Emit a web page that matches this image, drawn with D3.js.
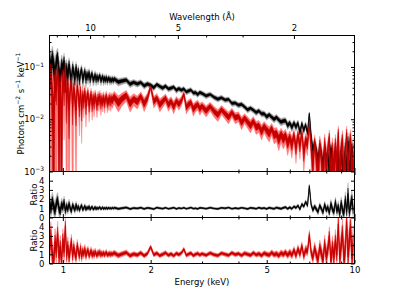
<!DOCTYPE html>
<html>
<head>
<meta charset="utf-8">
<script src="https://cdn.jsdelivr.net/npm/d3@7"></script>
<style>
  body { margin: 0; background: #fff; }
  text { font-family: "DejaVu Sans", sans-serif; }
</style>
</head>
<body>
<svg id="chart" width="394" height="296"></svg>
<script>
// Bin centres (keV)
const energy = [
  0.90,0.91,0.92,0.93,0.94,0.95,0.96,0.97,0.98,0.99,1.00,1.01,1.02,1.03,1.04,1.05,1.06,1.07,1.08,1.09,
  1.10,1.11,1.12,1.13,1.14,1.15,1.16,1.17,1.18,1.19,1.20,1.21,1.22,1.23,1.24,1.25,1.26,1.27,1.28,1.29,
  1.30,1.31,1.32,1.33,1.34,1.35,1.36,1.37,1.38,1.39,1.40,1.41,1.42,1.43,1.44,1.45,1.46,1.47,1.48,1.49,
  1.50,1.55,1.60,1.65,1.70,1.75,1.80,1.85,1.90,1.95,2.00,2.05,2.10,2.15,2.20,2.25,2.30,2.35,2.40,2.45,2.50,2.55,2.60,2.65,2.70,2.75,2.80,2.85,2.90,2.95,
  3.0,3.1,3.2,3.3,3.4,3.5,3.6,3.7,3.8,3.9,4.0,4.1,4.2,4.3,4.4,4.5,4.6,4.7,4.8,4.9,5.0,5.1,5.2,5.3,5.4,5.5,5.6,5.7,5.8,5.9,
  6.0,6.1,6.2,6.3,6.4,6.5,6.6,6.7,6.8,6.9,7.0,7.1,7.2,7.3,7.4,7.5,7.6,7.7,7.8,7.9,
  8.0,8.1,8.2,8.3,8.4,8.5,8.6,8.7,8.8,8.9,9.0,9.1,9.2,9.3,9.4,9.5,9.6,9.7,9.8,9.9
];

// Model level of each spectrum (photons cm^-2 s^-1 keV^-1)
const blackModel = [
  0.0933,0.0916,0.0902,0.0885,0.0871,0.0857,0.0843,0.0830,0.0817,0.0807,0.0798,0.0789,0.0782,0.0774,0.0766,0.0759,0.0752,0.0745,0.0738,0.0731,
  0.0724,0.0718,0.0711,0.0705,0.0698,0.0692,0.0687,0.0681,0.0676,0.0671,0.0667,0.0661,0.0656,0.0653,0.0649,0.0643,0.0638,0.0634,0.0630,0.0625,
  0.0622,0.0618,0.0614,0.0610,0.0605,0.0601,0.0598,0.0594,0.0592,0.0589,0.0586,0.0583,0.0579,0.0577,0.0574,0.0571,0.0568,0.0565,0.0562,0.0560,
  0.0558,0.0545,0.0531,0.0519,0.0507,0.0495,0.0484,0.0474,0.0465,0.0455,0.0447,0.0438,0.0430,0.0422,0.0414,0.0407,0.0401,0.0394,0.0387,0.0381,0.0375,0.0368,0.0360,0.0352,0.0345,0.0337,0.0330,0.0324,0.0317,0.0311,
  0.0304,0.0292,0.0280,0.0269,0.0258,0.0247,0.0234,0.0223,0.0212,0.0201,0.0192,0.0182,0.0173,0.0163,0.0155,0.0148,0.0142,0.0135,0.0130,0.0124,0.0119,0.0115,0.0110,0.0105,0.0101,0.00964,0.00925,0.00881,0.00841,0.00804,
  0.00769,0.00736,0.00706,0.00676,0.00649,0.00624,0.00570,0.00513,0.00463,0.00417,0.00378,0.00343,0.00312,0.00291,0.00271,0.00252,0.00237,0.00225,0.00219,0.00212,
  0.00206,0.00200,0.00195,0.00189,0.00184,0.00179,0.00174,0.00171,0.00167,0.00164,0.00161,0.00157,0.00155,0.00152,0.00149,0.00147,0.00144,0.00142,0.00140,0.00137
];
const redModel = [
  0.0316,0.0311,0.0307,0.0303,0.0299,0.0294,0.0290,0.0286,0.0282,0.0277,0.0272,0.0266,0.0261,0.0256,0.0251,0.0246,0.0241,0.0237,0.0234,0.0231,
  0.0228,0.0225,0.0222,0.0219,0.0216,0.0215,0.0214,0.0214,0.0214,0.0214,0.0214,0.0214,0.0215,0.0215,0.0215,0.0215,0.0216,0.0216,0.0217,0.0217,
  0.0218,0.0218,0.0218,0.0218,0.0219,0.0219,0.0220,0.0221,0.0222,0.0223,0.0224,0.0224,0.0225,0.0226,0.0228,0.0229,0.0230,0.0230,0.0231,0.0232,
  0.0233,0.0238,0.0240,0.0239,0.0238,0.0238,0.0237,0.0236,0.0236,0.0235,0.0234,0.0231,0.0227,0.0223,0.0220,0.0216,0.0213,0.0210,0.0207,0.0204,0.0201,0.0198,0.0195,0.0191,0.0188,0.0185,0.0182,0.0178,0.0175,0.0173,
  0.0169,0.0162,0.0155,0.0148,0.0142,0.0136,0.0129,0.0123,0.0117,0.0111,0.0106,0.0100,0.00944,0.00891,0.00841,0.00798,0.00755,0.00716,0.00681,0.00649,0.00617,0.00587,0.00560,0.00530,0.00502,0.00475,0.00452,0.00429,0.00407,0.00390,
  0.00374,0.00359,0.00345,0.00330,0.00318,0.00305,0.00292,0.00280,0.00269,0.00257,0.00247,0.00236,0.00224,0.00214,0.00204,0.00195,0.00186,0.00179,0.00174,0.00169,
  0.00164,0.00159,0.00155,0.00150,0.00146,0.00142,0.00138,0.00136,0.00133,0.00130,0.00128,0.00125,0.00123,0.00121,0.00119,0.00116,0.00114,0.00112,0.00111,0.00109
];

// Data / model ratio
const blackRatio = [
  1.6,0.9,1.8,1.2,0.7,1.5,1.9,0.9,0.65,1.4,1.1,1.7,0.7,1.25,0.85,1.5,1.0,0.7,1.35,1.1,
  0.8,1.4,0.9,1.2,0.8,1.1,1.3,0.85,1.0,1.25,0.85,1.12,0.95,1.2,0.88,1.05,1.16,0.9,0.96,1.14,
  0.9,1.08,0.93,1.04,1.12,0.92,1.0,1.1,0.92,1.05,0.95,1.08,0.94,1.02,1.06,0.95,1.03,0.97,1.05,0.98,
  1.06,0.95,1.02,1.09,0.93,1.03,0.98,1.07,0.94,1.04,1.0,0.92,1.08,1.01,0.96,1.06,0.95,1.0,1.07,0.94,1.03,0.98,1.06,0.95,1.01,1.08,0.97,1.0,0.94,1.05,
  1.03,0.96,1.07,0.98,0.94,1.05,1.0,1.08,0.95,1.02,0.97,1.06,1.0,0.93,1.05,1.01,0.95,1.07,0.98,1.03,0.94,1.06,1.0,0.95,1.08,1.01,0.96,1.05,1.12,0.95,
  1.1,0.95,1.2,1.05,1.3,0.9,1.45,1.2,1.7,1.3,3.4,1.4,0.8,1.2,0.9,0.6,1.3,0.95,0.55,1.4,
  0.8,1.1,0.5,1.5,0.9,0.6,1.7,0.7,1.2,0.35,1.6,0.8,0.45,2.0,0.6,2.6,0.5,1.4,2.0,0.8
];
const redRatio = [
  1.6,3.0,0.9,0.1,2.4,1.3,3.3,0.6,1.9,0.15,2.7,1.2,4.1,0.8,2.0,0.6,1.5,2.4,0.7,1.8,
  1.1,0.65,2.0,1.3,0.8,1.7,0.7,1.4,1.0,1.6,0.8,1.25,1.45,0.85,1.1,1.4,0.85,1.2,0.9,1.3,
  1.05,0.85,1.22,1.0,1.28,0.88,1.14,0.95,1.18,0.9,1.1,1.22,0.9,1.05,0.95,1.14,0.92,1.08,1.0,1.1,
  1.15,0.88,1.05,1.2,0.85,1.03,0.92,1.16,0.84,1.08,1.8,0.95,1.12,0.86,1.0,1.17,0.9,1.05,0.84,1.1,0.97,1.14,1.55,0.89,1.03,1.13,0.86,1.0,1.09,0.92,
  1.06,0.9,1.14,0.96,0.86,1.12,1.0,0.89,1.16,0.97,1.07,0.87,1.11,1.0,0.9,1.15,0.94,1.05,0.86,1.12,1.0,0.92,1.18,0.95,1.06,0.86,1.14,0.98,1.2,0.9,
  1.2,0.9,1.45,0.85,1.6,1.0,1.9,0.8,1.5,1.3,3.1,1.2,0.6,1.7,0.9,0.4,1.8,1.1,0.3,2.2,
  0.7,1.5,3.0,0.2,1.9,0.6,2.5,0.9,4.3,0.4,2.0,3.4,0.3,1.6,4.6,0.7,2.6,3.9,0.5,2.2
];

// 1-sigma errors, relative to the model
const blackErr = [
  1.0,0.98,0.95,0.92,0.9,0.86,0.82,0.78,0.74,0.7,0.66,0.62,0.58,0.55,0.52,0.49,0.46,0.44,0.42,0.4,
  0.38,0.36,0.34,0.33,0.32,0.31,0.3,0.29,0.28,0.27,0.26,0.25,0.245,0.24,0.235,0.23,0.225,0.22,0.215,0.21,
  0.205,0.2,0.198,0.196,0.194,0.192,0.19,0.188,0.186,0.184,0.182,0.18,0.178,0.176,0.174,0.172,0.17,0.168,0.166,0.164,
  0.16,0.155,0.15,0.145,0.14,0.138,0.135,0.133,0.13,0.128,0.126,0.125,0.124,0.123,0.122,0.121,0.12,0.12,0.12,0.12,0.12,0.12,0.12,0.12,0.12,0.12,0.12,0.12,0.12,0.12,
  0.115,0.115,0.115,0.115,0.115,0.116,0.117,0.118,0.119,0.12,0.121,0.122,0.123,0.124,0.125,0.127,0.129,0.131,0.133,0.135,0.137,0.14,0.143,0.146,0.149,0.152,0.155,0.158,0.162,0.166,
  0.17,0.175,0.18,0.185,0.19,0.2,0.21,0.22,0.23,0.24,0.25,0.27,0.29,0.3,0.31,0.32,0.33,0.34,0.36,0.38,
  0.4,0.42,0.44,0.46,0.48,0.5,0.52,0.55,0.58,0.6,0.63,0.66,0.7,0.75,0.8,1.2,0.8,0.85,0.9,0.8
];
const redErr = [
  1.6,1.55,1.5,1.45,1.4,1.35,1.3,1.25,1.2,1.15,1.1,1.05,1.0,0.95,0.9,0.86,0.82,0.78,0.74,0.7,
  0.67,0.64,0.62,0.6,0.58,0.56,0.54,0.52,0.5,0.48,0.47,0.46,0.45,0.44,0.43,0.42,0.41,0.4,0.39,0.38,
  0.37,0.36,0.355,0.35,0.345,0.34,0.335,0.33,0.325,0.32,0.318,0.316,0.314,0.312,0.31,0.308,0.306,0.304,0.302,0.3,
  0.32,0.3,0.29,0.28,0.27,0.265,0.26,0.255,0.25,0.25,0.245,0.245,0.24,0.24,0.24,0.235,0.235,0.235,0.23,0.23,0.23,0.23,0.23,0.23,0.23,0.23,0.23,0.23,0.23,0.23,
  0.22,0.22,0.22,0.22,0.222,0.224,0.226,0.228,0.23,0.233,0.236,0.24,0.244,0.248,0.253,0.258,0.263,0.269,0.275,0.282,0.29,0.298,0.306,0.315,0.325,0.335,0.345,0.356,0.368,0.38,
  0.39,0.4,0.41,0.42,0.43,0.44,0.46,0.48,0.5,0.52,0.53,0.56,0.6,0.64,0.68,0.72,0.76,0.8,0.84,0.88,
  0.92,0.96,1.0,1.05,1.1,1.15,1.2,1.25,1.3,1.35,1.4,1.45,1.5,1.55,1.6,1.65,1.7,1.75,1.8,1.9
];

// Tick values
const energyMajor = [1, 2, 5, 10];
const energyMinor = [3, 4, 6, 7, 8, 9];
const waveMajor = [10, 5, 2];
const waveMinor = [13, 12, 11, 9, 8, 7, 6, 4, 3];
const fluxMajor = [1e-3, 1e-2, 1e-1];
const fluxMinor = [2e-3,3e-3,4e-3,5e-3,6e-3,7e-3,8e-3,9e-3,2e-2,3e-2,4e-2,5e-2,6e-2,7e-2,8e-2,9e-2,2e-1,3e-1];
const ratioTicks = [0, 1, 2, 3, 4];

const colors = { black: "#000000", gray: "#a6a6a6", red: "#c40000", pink: "#ff7474" };

var margin = { top: 35.5, right: 39.5, bottom: 32.5, left: 49.5 };
const width = 394 - margin.left - margin.right;
const mainH = 136, ratioH = 46;
const darkK = 0.5;   // half-height of the dark core, in units of the error

var x = d3.scaleLog().domain([0.9, 10]).range([0, width]);
var xWave = d3.scaleLog().domain([12.398 / 0.9, 12.398 / 10]).range([0, width]);
var yMain = d3.scaleLog().domain([1e-3, 0.4]).range([mainH, 0]);
var yRatio = d3.scaleLinear().domain([0, 5]).range([ratioH, 0]);

var svg = d3.select("#chart").append("g")
    .attr("transform", "translate(" + margin.left + "," + margin.top + ")");

var bins = energy.map(function(e, i) { return { i: i, e: e }; });

function makePanel(id, top, h) {
    svg.append("clipPath").attr("id", id)
        .append("rect").attr("width", width).attr("height", h);
    var g = svg.append("g").attr("transform", "translate(0," + top + ")");
    var plot = g.append("g").attr("clip-path", "url(#" + id + ")");
    return { g: g, plot: plot, h: h };
}

// error band drawn as a filled area between ratio - k*err and ratio + k*err
function band(plot, yScale, valueAt, k, color) {
    plot.append("path")
        .datum(bins)
        .attr("fill", color)
        .attr("stroke", color)
        .attr("stroke-width", 0.4)
        .attr("d", d3.area()
            .x(function(d) { return x(d.e); })
            .y0(function(d) { return yScale(valueAt(d.i, -k)); })
            .y1(function(d) { return yScale(valueAt(d.i, k)); }));
}

function dataLine(plot, yScale, valueAt, color) {
    plot.append("path")
        .datum(bins)
        .attr("fill", "none")
        .attr("stroke", color)
        .attr("stroke-width", 0.7)
        .attr("d", d3.line()
            .x(function(d) { return x(d.e); })
            .y(function(d) { return yScale(valueAt(d.i, 0)); }));
}

function fluxOf(model, ratio, err) {
    return function(i, k) { return Math.max(model[i] * (ratio[i] + k * err[i]), 1e-5); };
}
function ratioOf(ratio, err) {
    return function(i, k) { return ratio[i] + k * err[i]; };
}

function styleAxis(g) {
    g.select(".domain").remove();
    g.attr("font-family", "DejaVu Sans").attr("font-size", 8.5);
    g.selectAll("line").attr("stroke", "#000");
    g.selectAll("text").attr("fill", "#000");
}

function energyAxes(panel, labels) {
    // bottom, ticks pointing up
    panel.g.append("g").attr("transform", "translate(0," + panel.h + ")")
        .call(d3.axisBottom(x).tickValues(energyMajor).tickSizeInner(-3.5).tickSizeOuter(0).tickPadding(3.5)
            .tickFormat(labels ? d3.format("d") : ""))
        .call(styleAxis);
    panel.g.append("g").attr("transform", "translate(0," + panel.h + ")")
        .call(d3.axisBottom(x).tickValues(energyMinor).tickSizeInner(-2).tickSizeOuter(0).tickFormat(""))
        .call(styleAxis);
}
function energyTopTicks(panel) {
    panel.g.append("g")
        .call(d3.axisTop(x).tickValues(energyMajor).tickSizeInner(-3.5).tickSizeOuter(0).tickFormat(""))
        .call(styleAxis);
    panel.g.append("g")
        .call(d3.axisTop(x).tickValues(energyMinor).tickSizeInner(-2).tickSizeOuter(0).tickFormat(""))
        .call(styleAxis);
}

function frame(panel) {
    panel.g.append("rect")
        .attr("width", width).attr("height", panel.h)
        .attr("fill", "none").attr("stroke", "#000").attr("stroke-width", 1);
}

// ---------- main spectrum panel ----------
var main = makePanel("clip-main", 0, mainH);
var blackFlux = fluxOf(blackModel, blackRatio, blackErr);
var redFlux = fluxOf(redModel, redRatio, redErr);

band(main.plot, yMain, blackFlux, 1, colors.gray);
band(main.plot, yMain, redFlux, 1, colors.pink);
band(main.plot, yMain, blackFlux, darkK, colors.black);
dataLine(main.plot, yMain, blackFlux, colors.black);
band(main.plot, yMain, redFlux, darkK, colors.red);
dataLine(main.plot, yMain, redFlux, colors.red);

energyAxes(main, false);

// wavelength axis on top
main.g.append("g")
    .call(d3.axisTop(xWave).tickValues(waveMajor).tickSizeInner(-3.5).tickSizeOuter(0).tickPadding(4.5)
        .tickFormat(d3.format("d")))
    .call(styleAxis);
main.g.append("g")
    .call(d3.axisTop(xWave).tickValues(waveMinor).tickSizeInner(-2).tickSizeOuter(0).tickFormat(""))
    .call(styleAxis);

// log flux axis, left with labels and right mirror
var yAxisLeft = main.g.append("g")
    .call(d3.axisLeft(yMain).tickValues(fluxMajor).tickSizeInner(-3.5).tickSizeOuter(0).tickPadding(5.5)
        .tickFormat(""))
    .call(styleAxis);
yAxisLeft.selectAll(".tick text").each(function(d) {
    var t = d3.select(this).attr("dy", "0.32em");
    t.append("tspan").text("10");
    t.append("tspan").attr("dy", -3.6).attr("font-size", 6).text("\u2212" + Math.round(-Math.log10(d)));
});
main.g.append("g")
    .call(d3.axisLeft(yMain).tickValues(fluxMinor).tickSizeInner(-2).tickSizeOuter(0).tickFormat(""))
    .call(styleAxis);
main.g.append("g").attr("transform", "translate(" + width + ",0)")
    .call(d3.axisRight(yMain).tickValues(fluxMajor).tickSizeInner(-3.5).tickSizeOuter(0).tickFormat(""))
    .call(styleAxis);
main.g.append("g").attr("transform", "translate(" + width + ",0)")
    .call(d3.axisRight(yMain).tickValues(fluxMinor).tickSizeInner(-2).tickSizeOuter(0).tickFormat(""))
    .call(styleAxis);
frame(main);

// ---------- ratio panels ----------
function ratioPanel(id, top, ratio, err, light, dark) {
    var p = makePanel(id, top, ratioH);
    var f = ratioOf(ratio, err);
    band(p.plot, yRatio, f, 1, light);
    band(p.plot, yRatio, f, darkK, dark);
    dataLine(p.plot, yRatio, f, dark);
    energyTopTicks(p);
    p.g.append("g")
        .call(d3.axisLeft(yRatio).tickValues(ratioTicks).tickSizeInner(-3.5).tickSizeOuter(0).tickPadding(5)
            .tickFormat(d3.format("d")))
        .call(styleAxis);
    p.g.append("g").attr("transform", "translate(" + width + ",0)")
        .call(d3.axisRight(yRatio).tickValues(ratioTicks).tickSizeInner(-3.5).tickSizeOuter(0).tickFormat(""))
        .call(styleAxis);
    p.g.append("text")
        .attr("transform", "rotate(-90)")
        .attr("x", -ratioH / 2)
        .attr("y", -13)
        .attr("text-anchor", "middle")
        .attr("font-size", 8.5)
        .text("Ratio");
    return p;
}

var r1 = ratioPanel("clip-r1", mainH, blackRatio, blackErr, colors.gray, colors.black);
energyAxes(r1, false);
frame(r1);
var r2 = ratioPanel("clip-r2", mainH + ratioH, redRatio, redErr, colors.pink, colors.red);
energyAxes(r2, true);
frame(r2);

// ---------- axis titles ----------
svg.append("text")
    .attr("x", width / 2)
    .attr("y", 2 * ratioH + mainH + 21.5)
    .attr("text-anchor", "middle")
    .attr("font-size", 8.5)
    .text("Energy (keV)");

svg.append("text")
    .attr("x", width / 2)
    .attr("y", -16)
    .attr("text-anchor", "middle")
    .attr("font-size", 8.5)
    .text("Wavelength (\u00c5)");

var ylab = svg.append("text")
    .attr("transform", "rotate(-90)")
    .attr("x", -mainH / 2)
    .attr("y", -26)
    .attr("text-anchor", "middle")
    .attr("font-size", 8.5);
ylab.append("tspan").text("Photons cm");
ylab.append("tspan").attr("dy", -3.6).attr("font-size", 6).text("\u22122");
ylab.append("tspan").attr("dy", 3.6).text(" s");
ylab.append("tspan").attr("dy", -3.6).attr("font-size", 6).text("\u22121");
ylab.append("tspan").attr("dy", 3.6).text(" keV");
ylab.append("tspan").attr("dy", -3.6).attr("font-size", 6).text("\u22121");
</script>
</body>
</html>
